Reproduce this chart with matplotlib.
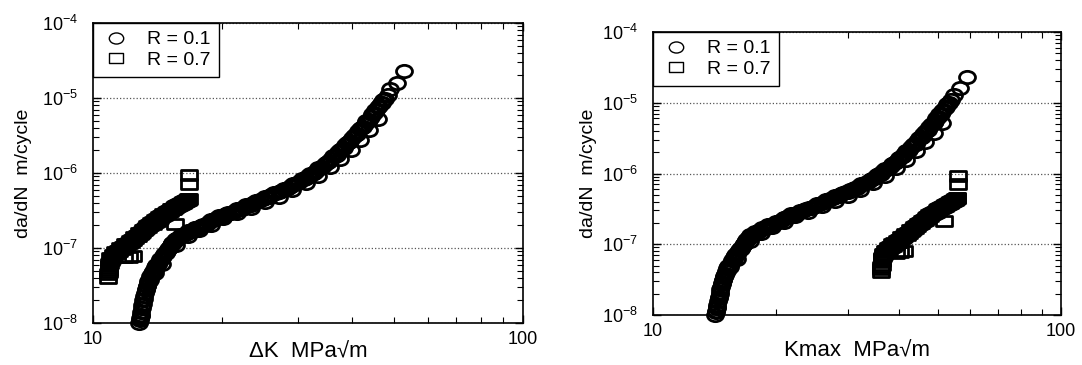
import matplotlib
matplotlib.use('Agg')
import matplotlib.pyplot as plt
import numpy as np
from matplotlib.path import Path
from matplotlib.transforms import Affine2D
from matplotlib.ticker import LogLocator, NullFormatter, FixedLocator, FixedFormatter

plt.rcParams['font.family'] = ['Liberation Sans', 'DejaVu Sans']
plt.rcParams['mathtext.default'] = 'regular'

# stress ratios of the two test series
r_low = 0.1
r_high = 0.7

# R = 0.1 : delta K (MPa sqrt m) and da/dN (m/cycle), read along the band
dk_r01 = [12.8, 12.85, 12.9, 12.95, 13.0, 13.05, 13.1, 13.15, 13.2, 13.3,
          13.35, 13.45, 13.55, 13.6, 13.7, 13.85, 13.95, 14.1, 14.25, 14.4,
          14.55, 14.7, 14.85, 15.0, 15.15, 15.3, 15.5, 15.7, 15.9, 16.2,
          16.5, 16.8, 17.1, 17.4, 17.8, 18.2, 18.6, 19.0, 19.4, 19.9,
          20.4, 20.9, 21.4, 21.9, 22.4, 23.0, 23.6, 24.2, 24.8, 25.4,
          26.0, 26.7, 27.4, 28.1, 28.8, 29.5, 30.2, 30.9, 31.6, 32.3,
          33.0, 33.7, 34.4, 35.1, 35.8, 36.5, 37.2, 37.9, 38.6, 39.3,
          40.0, 40.7, 41.4, 42.1, 42.8, 43.5, 44.2, 44.9, 45.6, 46.3,
          47.0, 47.7, 48.4, 49.1, 50.9, 52.9,
          13.4, 13.9, 14.5, 15.6, 16.6, 17.6, 18.8, 20.1, 21.6, 23.3,
          25.1, 27.0, 29.0, 31.2, 33.4, 35.5, 37.6, 39.7, 41.8, 43.9, 46.0]
rate_r01 = [1.0e-8, 1.1e-8, 1.25e-8, 1.4e-8, 1.6e-8, 1.8e-8, 2.0e-8, 2.3e-8, 2.5e-8, 2.8e-8,
            3.1e-8, 3.4e-8, 3.8e-8, 4.2e-8, 4.6e-8, 5.0e-8, 5.5e-8, 6.0e-8, 6.6e-8, 7.2e-8,
            7.8e-8, 8.5e-8, 9.2e-8, 1.0e-7, 1.08e-7, 1.17e-7, 1.26e-7, 1.33e-7, 1.4e-7, 1.5e-7,
            1.6e-7, 1.68e-7, 1.75e-7, 1.85e-7, 1.95e-7, 2.05e-7, 2.2e-7, 2.35e-7, 2.5e-7, 2.65e-7,
            2.8e-7, 2.95e-7, 3.1e-7, 3.3e-7, 3.5e-7, 3.75e-7, 4.0e-7, 4.25e-7, 4.5e-7, 4.8e-7,
            5.1e-7, 5.4e-7, 5.8e-7, 6.2e-7, 6.7e-7, 7.2e-7, 7.7e-7, 8.3e-7, 9.0e-7, 9.8e-7,
            1.07e-6, 1.17e-6, 1.28e-6, 1.4e-6, 1.55e-6, 1.7e-6, 1.9e-6, 2.1e-6, 2.35e-6, 2.6e-6,
            2.9e-6, 3.2e-6, 3.6e-6, 4.0e-6, 4.5e-6, 5.0e-6, 5.6e-6, 6.3e-6, 7.0e-6, 7.8e-6,
            8.7e-6, 9.8e-6, 1.1e-5, 1.3e-5, 1.6e-5, 2.3e-5,
            3.6e-8, 4.7e-8, 6.2e-8, 1.1e-7, 1.45e-7, 1.75e-7, 2.05e-7, 2.5e-7, 2.9e-7, 3.45e-7,
            4.1e-7, 4.8e-7, 5.9e-7, 7.3e-7, 9.2e-7, 1.2e-6, 1.55e-6, 2.05e-6, 2.75e-6, 3.7e-6, 5.2e-6]

# R = 0.1, second pass of readings (the band is a few specimens wide)
dk_r01_b = [12.83, 12.93, 13.03, 13.13, 13.25, 13.38, 13.5, 13.65, 13.78, 13.9,
            14.03, 14.18, 14.33, 14.48, 14.63, 14.78, 14.93, 15.08, 15.23, 15.4,
            15.6, 15.8, 16.05, 16.35, 16.65, 16.95, 17.25, 17.6, 18.0, 18.4,
            18.8, 19.2, 19.65, 20.15, 20.65, 21.15, 21.65, 22.15, 22.7, 23.3,
            23.9, 24.5, 25.1, 25.7, 26.35, 27.05, 27.75, 28.45, 29.15, 29.85,
            30.55, 31.25, 31.95, 32.65, 33.35, 34.05, 34.75, 35.45, 36.15, 36.85,
            37.55, 38.25, 38.95, 39.65, 40.35, 41.05, 41.75, 42.45, 43.15, 43.85,
            44.55, 45.25, 45.95, 46.65, 47.35]
rate_r01_b = [1.15e-8, 1.28e-8, 1.75e-8, 2.1e-8, 2.75e-8, 3.1e-8, 3.7e-8, 4.2e-8, 5.0e-8, 5.1e-8,
              5.9e-8, 6.2e-8, 7.1e-8, 7.4e-8, 8.3e-8, 8.7e-8, 9.8e-8, 1.02e-7, 1.15e-7, 1.2e-7,
              1.33e-7, 1.35e-7, 1.5e-7, 1.52e-7, 1.7e-7, 1.69e-7, 1.85e-7, 1.87e-7, 2.05e-7, 2.1e-7,
              2.35e-7, 2.4e-7, 2.65e-7, 2.7e-7, 2.95e-7, 3.0e-7, 3.3e-7, 3.35e-7, 3.7e-7, 3.8e-7,
              4.2e-7, 4.3e-7, 4.75e-7, 4.85e-7, 5.35e-7, 5.5e-7, 6.1e-7, 6.3e-7, 7.1e-7, 7.3e-7,
              8.2e-7, 8.5e-7, 9.6e-7, 1.0e-6, 1.15e-6, 1.2e-6, 1.38e-6, 1.45e-6, 1.66e-6, 1.75e-6,
              2.05e-6, 2.15e-6, 2.55e-6, 2.65e-6, 3.15e-6, 3.3e-6, 3.9e-6, 4.1e-6, 4.9e-6, 5.1e-6,
              6.1e-6, 6.9e-6, 7.7e-6, 8.5e-6, 9.5e-6]

# R = 0.7
dk_r07 = [10.85, 10.85, 10.9, 10.9, 10.95, 11.0, 11.05, 11.2, 11.35, 11.5,
          11.65, 11.8, 11.95, 12.1, 12.25, 12.4, 12.55, 12.7, 12.85, 13.0,
          13.15, 13.3, 13.45, 13.6, 13.75, 13.9, 14.05, 14.2, 14.35, 14.5,
          14.65, 14.8, 14.95, 15.1, 15.25, 15.4, 15.55, 15.7, 15.85, 16.0,
          16.15, 16.3, 16.45, 16.6, 16.7,
          11.8, 12.1, 12.4, 15.5, 16.75, 16.75]
rate_r07 = [4.0e-8, 4.5e-8, 5.1e-8, 5.8e-8, 6.4e-8, 6.9e-8, 7.4e-8, 7.9e-8, 8.5e-8, 9.0e-8,
            9.6e-8, 1.02e-7, 1.08e-7, 1.15e-7, 1.22e-7, 1.29e-7, 1.37e-7, 1.45e-7, 1.54e-7, 1.63e-7,
            1.72e-7, 1.82e-7, 1.92e-7, 2.02e-7, 2.12e-7, 2.22e-7, 2.32e-7, 2.43e-7, 2.54e-7, 2.66e-7,
            2.78e-7, 2.9e-7, 3.02e-7, 3.14e-7, 3.26e-7, 3.38e-7, 3.5e-7, 3.62e-7, 3.74e-7, 3.86e-7,
            3.98e-7, 4.1e-7, 4.22e-7, 4.34e-7, 4.45e-7,
            7.5e-8, 7.7e-8, 7.9e-8, 2.1e-7, 7.2e-7, 9.3e-7]

dk_r07_b = [10.88, 10.92, 10.97, 11.1, 11.27, 11.42, 11.57, 11.72, 11.87, 12.02,
            12.17, 12.32, 12.47, 12.62, 12.77, 12.92, 13.07, 13.22, 13.37, 13.52,
            13.67, 13.82, 13.97, 14.12, 14.27, 14.42, 14.57, 14.72, 14.87, 15.02,
            15.17, 15.32, 15.47, 15.62, 15.77, 15.92, 16.07, 16.22, 16.37, 16.52, 16.65]
rate_r07_b = [4.8e-8, 6.1e-8, 7.3e-8, 8.1e-8, 8.8e-8, 9.2e-8, 1.0e-7, 1.04e-7, 1.12e-7, 1.14e-7,
              1.25e-7, 1.28e-7, 1.4e-7, 1.44e-7, 1.57e-7, 1.6e-7, 1.75e-7, 1.8e-7, 1.95e-7, 2.0e-7,
              2.15e-7, 2.2e-7, 2.35e-7, 2.42e-7, 2.57e-7, 2.65e-7, 2.8e-7, 2.88e-7, 3.05e-7, 3.1e-7,
              3.27e-7, 3.35e-7, 3.52e-7, 3.58e-7, 3.76e-7, 3.82e-7, 4.0e-7, 4.06e-7, 4.24e-7, 4.3e-7, 4.48e-7]

dk_low = dk_r01 + dk_r01_b
rate_low = rate_r01 + rate_r01_b
dk_high = dk_r07 + dk_r07_b
rate_high = rate_r07 + rate_r07_b

# Kmax = delta K / (1 - R)
kmax_low = [v / (1 - r_low) for v in dk_low]
kmax_high = [v / (1 - r_high) for v in dk_high]

y_major = [1e-8, 1e-7, 1e-6, 1e-5, 1e-4]
y_labels = ['$10^{-8}$', '$10^{-7}$', '$10^{-6}$', '$10^{-5}$', '$10^{-4}$']

# slightly wide open markers, as in the scanned figure
circ = Path.unit_circle().transformed(Affine2D().scale(1.3, 1.0))
sq = Path([(-1.45, -1), (1.45, -1), (1.45, 1), (-1.45, 1), (-1.45, -1)],
          [Path.MOVETO, Path.LINETO, Path.LINETO, Path.LINETO, Path.CLOSEPOLY])


def style_axes(ax, xlabel, ylabel, ylabelpad, xlabelpad):
    ax.set_xscale('log')
    ax.set_yscale('log')
    ax.set_xlim(10, 100)
    ax.set_ylim(1e-8, 1e-4)
    ax.xaxis.set_major_locator(FixedLocator([10, 100]))
    ax.xaxis.set_major_formatter(FixedFormatter(['10', '100']))
    ax.xaxis.set_minor_locator(LogLocator(base=10, subs=np.arange(2, 10)))
    ax.xaxis.set_minor_formatter(NullFormatter())
    ax.yaxis.set_major_locator(FixedLocator(y_major))
    ax.yaxis.set_major_formatter(FixedFormatter(y_labels))
    ax.yaxis.set_minor_locator(LogLocator(base=10, subs=np.arange(2, 10)))
    ax.yaxis.set_minor_formatter(NullFormatter())
    ax.tick_params(which='both', direction='in', top=True, right=True, labelsize=13)
    ax.tick_params(which='major', length=6, width=1)
    ax.tick_params(which='minor', length=4, width=0.8)
    ax.tick_params(axis='y', which='major', pad=11)
    ax.tick_params(axis='x', which='major', pad=6)
    ax.yaxis.grid(True, which='major', linestyle=':', color='#555555', linewidth=0.9)
    for s in ax.spines.values():
        s.set_linewidth(1.2)
    ax.set_xlabel(xlabel, fontsize=16, labelpad=xlabelpad)
    ax.set_ylabel(ylabel, fontsize=14, labelpad=ylabelpad)


fig = plt.figure(figsize=(10.82, 3.65), dpi=100)
ax1 = fig.add_axes([0.0860, 0.1151, 0.3974, 0.8219])
ax2 = fig.add_axes([0.6035, 0.137, 0.3771, 0.7753])

for ax, xr01, xr07 in [(ax1, dk_low, dk_high), (ax2, kmax_low, kmax_high)]:
    ax.plot(xr01, rate_low, linestyle='none', marker=circ, ms=11.5, mfc='none',
            mec='black', mew=2.0, label='R = 0.1', clip_on=False, zorder=3)
    ax.plot(xr07, rate_high, linestyle='none', marker=sq, ms=11.3, mfc='none',
            mec='black', mew=2.0, label='R = 0.7', clip_on=False, zorder=3)
    leg = ax.legend(loc='upper left', borderaxespad=0, fancybox=False, edgecolor='black',
                    framealpha=1, fontsize=14, handletextpad=0.8, borderpad=0.4,
                    labelspacing=0.15, handlelength=1.6, markerscale=0.9)
    leg.get_frame().set_linewidth(1.0)
    leg.set_zorder(5)
    for h in leg.legend_handles:
        h.set_markeredgewidth(1.0)

style_axes(ax1, '\u0394K  MPa\u221am', 'da/dN  m/cycle', 7, -5)
style_axes(ax2, 'Kmax  MPa\u221am', 'da/dN  m/cycle', 3, 0)

fig.savefig('out.png', dpi=100)
